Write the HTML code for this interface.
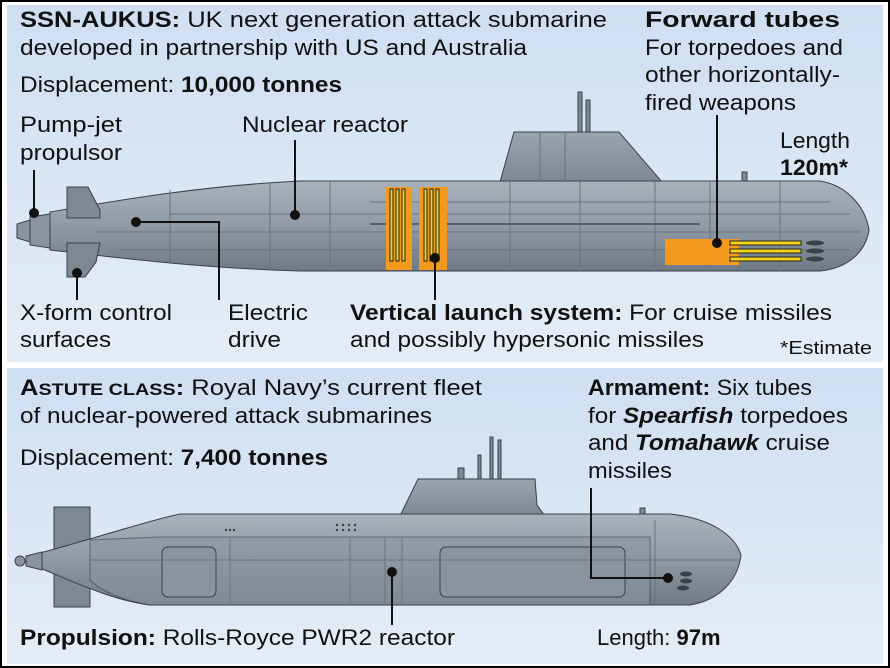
<!DOCTYPE html>
<html><head><meta charset="utf-8"><style>
html,body{margin:0;padding:0;background:#fff}
svg{display:block}
text{font-family:"Liberation Sans",Arial,sans-serif;font-size:22px;fill:#111}
.b{font-weight:bold}
</style></head><body>
<svg width="890" height="668" viewBox="0 0 890 668" xmlns="http://www.w3.org/2000/svg">
<defs>
<linearGradient id="bg" x1="0" y1="0" x2="0" y2="1"><stop offset="0" stop-color="#cfdff1"/><stop offset="1" stop-color="#e4edf7"/></linearGradient>
<linearGradient id="hull" x1="0" y1="0" x2="0" y2="1"><stop offset="0" stop-color="#a9b2bb"/><stop offset="0.45" stop-color="#939da7"/><stop offset="1" stop-color="#6f7a85"/></linearGradient>
<linearGradient id="sail" x1="0" y1="0" x2="0" y2="1"><stop offset="0" stop-color="#9aa4ae"/><stop offset="1" stop-color="#7d8893"/></linearGradient>
</defs>
<rect width="890" height="668" fill="#fff"/>
<rect x="0.5" y="0.5" width="889" height="667" fill="none" stroke="#000" stroke-width="3"/>
<rect x="7" y="5" width="876" height="357" fill="url(#bg)"/>
<rect x="7" y="368" width="876" height="296" fill="url(#bg)"/>

<!-- SUB 1 -->
<g stroke="#3a4048" stroke-width="1">
<rect x="578" y="92" width="4" height="45" fill="#7d8893"/>
<rect x="586" y="100" width="4" height="37" fill="#7d8893"/>
<rect x="742" y="172" width="5" height="12" fill="#7d8893"/>
<path d="M500,182 L514,132 L619,132 L662,182 Z" fill="url(#sail)"/>
<path d="M50,212 C120,200 200,186 300,181 L820,181 C850,186 866,210 869,230 C866,250 850,268 820,271 L300,271 C200,268 120,258 50,250 Z" fill="url(#hull)"/>
<path d="M67,187 L88,187 L100,210 L100,218 L67,218 Z" fill="#7d8893"/>
<path d="M67,243 L100,243 L96,262 L85,277 L67,277 Z" fill="#7d8893"/>
<path d="M30,217 L50,214 L50,248 L30,245 Z" fill="#8a949e"/>
<path d="M17,224 L30,220 L30,242 L17,238 Z" fill="#8a949e"/>
</g>
<g stroke="#6a737c" stroke-width="1" fill="none">
<line x1="96" y1="232" x2="860" y2="232"/>
<line x1="120" y1="250" x2="850" y2="250"/>
<line x1="170" y1="214" x2="850" y2="214"/>
<line x1="370" y1="202" x2="830" y2="202"/>
<line x1="170" y1="190" x2="170" y2="264"/><line x1="270" y1="183" x2="270" y2="270"/>
<line x1="330" y1="181" x2="330" y2="271"/><line x1="510" y1="181" x2="510" y2="271"/>
<line x1="580" y1="181" x2="580" y2="271"/><line x1="655" y1="181" x2="655" y2="271"/>
<line x1="710" y1="181" x2="710" y2="271"/><line x1="780" y1="181" x2="780" y2="271"/>
<line x1="540" y1="132" x2="540" y2="181"/><line x1="565" y1="132" x2="565" y2="181"/>
</g>
<line x1="370" y1="224" x2="700" y2="224" stroke="#56606a" stroke-width="2"/>
<rect x="386" y="187" width="26" height="83" fill="#f39a1e"/>
<rect x="419" y="187" width="28" height="83" fill="#f39a1e"/>
<g stroke="#222" stroke-width="1" fill="#f6d21c">
<rect x="390" y="189" width="3" height="72"/><rect x="396" y="189" width="3" height="72"/><rect x="402" y="189" width="3" height="72"/>
<rect x="424" y="189" width="3" height="72"/><rect x="430" y="189" width="3" height="72"/><rect x="436" y="189" width="3" height="72"/>
</g>
<rect x="665" y="239" width="74" height="26" fill="#f39a1e"/>
<g stroke="#222" stroke-width="1" fill="#f6d21c">
<rect x="730" y="241" width="71" height="4"/><rect x="730" y="249" width="71" height="4"/><rect x="730" y="257" width="71" height="4"/>
</g>
<g fill="#3a4048"><ellipse cx="815" cy="243" rx="9" ry="2.5"/><ellipse cx="815" cy="251" rx="9" ry="2.5"/><ellipse cx="815" cy="259" rx="9" ry="2.5"/></g>

<g stroke="#111" stroke-width="2" fill="none">
<line x1="34" y1="170" x2="34" y2="213"/>
<line x1="295" y1="140" x2="295" y2="215"/>
<polyline points="136,222 219,222 219,300"/>
<line x1="77" y1="273" x2="77" y2="300"/>
<line x1="435" y1="258" x2="435" y2="300"/>
<line x1="717" y1="115" x2="717" y2="243"/>
</g>
<g fill="#111"><circle cx="34" cy="213" r="5"/><circle cx="295" cy="215" r="5"/><circle cx="136" cy="222" r="5"/><circle cx="77" cy="273" r="5"/><circle cx="435" cy="258" r="5"/><circle cx="717" cy="243" r="5"/></g>

<!-- SUB 2 -->
<g stroke="#3a4048" stroke-width="1">
<rect x="490" y="437" width="3" height="42" fill="#7d8893"/><rect x="498" y="440" width="3" height="39" fill="#7d8893"/>
<rect x="478" y="455" width="3" height="24" fill="#7d8893"/><rect x="458" y="468" width="6" height="11" fill="#7d8893"/>
<rect x="640" y="508" width="5" height="12" fill="#7d8893"/>
<path d="M400,516 L418,479 L535,479 L537,505 L545,516 Z" fill="url(#sail)"/>
<rect x="54" y="507" width="36" height="100" fill="#7d8893"/>
<path d="M40,553 C90,540 150,520 180,514 L670,514 C710,518 735,535 741,555 C738,580 720,600 690,605 L150,605 C110,600 70,580 40,568 Z" fill="url(#hull)"/>
<path d="M90,540 L160,537 L650,537 L650,605 L150,605 C120,600 100,590 90,580 Z" fill="#8c96a0" opacity="0.6"/>
<path d="M26,556 L42,552 L42,570 L26,566 Z" fill="#8a949e"/>
<circle cx="20" cy="561" r="5" fill="#8a949e"/>
<rect x="162" y="547" width="54" height="50" rx="6" fill="#8a949e"/>
<rect x="440" y="547" width="185" height="50" rx="6" fill="#8a949e"/>
</g>
<g stroke="#6a737c" stroke-width="1" fill="none">
<line x1="90" y1="560" x2="740" y2="560"/>
<line x1="230" y1="537" x2="230" y2="605"/><line x1="350" y1="537" x2="350" y2="605"/>
<line x1="385" y1="537" x2="385" y2="605"/><line x1="402" y1="537" x2="402" y2="605"/>
<line x1="655" y1="520" x2="655" y2="605"/>
</g>
<g fill="#3a4048"><circle cx="226" cy="530" r="1.2"/><circle cx="230" cy="530" r="1.2"/><circle cx="234" cy="530" r="1.2"/>
<circle cx="337" cy="525" r="1.2"/><circle cx="343" cy="525" r="1.2"/><circle cx="349" cy="525" r="1.2"/><circle cx="355" cy="525" r="1.2"/>
<circle cx="337" cy="530" r="1.2"/><circle cx="343" cy="530" r="1.2"/><circle cx="349" cy="530" r="1.2"/><circle cx="355" cy="530" r="1.2"/>
<ellipse cx="686" cy="574" rx="6" ry="2.5"/><ellipse cx="686" cy="581" rx="6" ry="2.5"/><ellipse cx="683" cy="588" rx="6" ry="2.5"/></g>
<g stroke="#111" stroke-width="2" fill="none">
<line x1="392" y1="572" x2="392" y2="625"/>
<polyline points="668,578 591,578 591,488"/>
</g>
<g fill="#111"><circle cx="392" cy="572" r="5"/><circle cx="668" cy="578" r="5"/></g>

<!-- TEXT -->
<text x="20" y="27" textLength="587" lengthAdjust="spacingAndGlyphs"><tspan class="b">SSN-AUKUS:</tspan> UK next generation attack submarine</text>
<text x="20" y="55" textLength="507" lengthAdjust="spacingAndGlyphs">developed in partnership with US and Australia</text>
<text x="20" y="92" textLength="322" lengthAdjust="spacingAndGlyphs">Displacement: <tspan class="b">10,000 tonnes</tspan></text>
<text x="645" y="27" class="b" textLength="195" lengthAdjust="spacingAndGlyphs">Forward tubes</text>
<text x="645" y="55" textLength="198" lengthAdjust="spacingAndGlyphs">For torpedoes and</text>
<text x="645" y="82" textLength="195" lengthAdjust="spacingAndGlyphs">other horizontally-</text>
<text x="645" y="110" textLength="151" lengthAdjust="spacingAndGlyphs">fired weapons</text>
<text x="780" y="148" textLength="70" lengthAdjust="spacingAndGlyphs">Length</text>
<text x="780" y="175" class="b" textLength="68" lengthAdjust="spacingAndGlyphs">120m*</text>
<text x="20" y="132" textLength="102" lengthAdjust="spacingAndGlyphs">Pump-jet</text>
<text x="20" y="160" textLength="102" lengthAdjust="spacingAndGlyphs">propulsor</text>
<text x="242" y="132" textLength="166" lengthAdjust="spacingAndGlyphs">Nuclear reactor</text>
<text x="20" y="320" textLength="152" lengthAdjust="spacingAndGlyphs">X-form control</text>
<text x="20" y="347" textLength="91" lengthAdjust="spacingAndGlyphs">surfaces</text>
<text x="228" y="320" textLength="80" lengthAdjust="spacingAndGlyphs">Electric</text>
<text x="228" y="347" textLength="53" lengthAdjust="spacingAndGlyphs">drive</text>
<text x="350" y="320" textLength="482" lengthAdjust="spacingAndGlyphs"><tspan class="b">Vertical launch system:</tspan> For cruise missiles</text>
<text x="350" y="347" textLength="354" lengthAdjust="spacingAndGlyphs">and possibly hypersonic missiles</text>
<text x="780" y="354" style="font-size:18px" textLength="92" lengthAdjust="spacingAndGlyphs">*Estimate</text>

<text x="20" y="395" textLength="462" lengthAdjust="spacingAndGlyphs"><tspan class="b">A<tspan style="font-size:17px">STUTE CLASS</tspan>:</tspan> Royal Navy’s current fleet</text>
<text x="20" y="423" textLength="412" lengthAdjust="spacingAndGlyphs">of nuclear-powered attack submarines</text>
<text x="20" y="465" textLength="308" lengthAdjust="spacingAndGlyphs">Displacement: <tspan class="b">7,400 tonnes</tspan></text>
<text x="588" y="395" textLength="224" lengthAdjust="spacingAndGlyphs"><tspan class="b">Armament:</tspan> Six tubes</text>
<text x="588" y="423" textLength="260" lengthAdjust="spacingAndGlyphs">for <tspan class="b" font-style="italic">Spearfish</tspan> torpedoes</text>
<text x="588" y="450" textLength="242" lengthAdjust="spacingAndGlyphs">and <tspan class="b" font-style="italic">Tomahawk</tspan> cruise</text>
<text x="588" y="478" textLength="84" lengthAdjust="spacingAndGlyphs">missiles</text>
<text x="20" y="645" textLength="435" lengthAdjust="spacingAndGlyphs"><tspan class="b">Propulsion:</tspan> Rolls-Royce PWR2 reactor</text>
<text x="597" y="645">Length: <tspan class="b">97m</tspan></text>
</svg>
</body></html>
